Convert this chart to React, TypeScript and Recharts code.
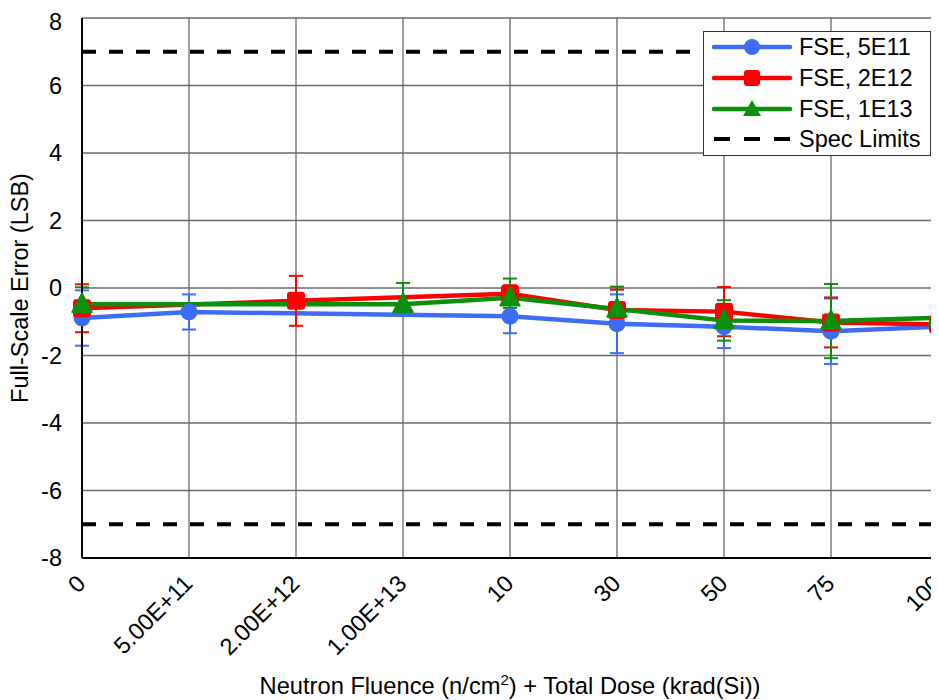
import React from 'react';
import { LineChart, Line, XAxis, YAxis, CartesianGrid, ReferenceLine, ErrorBar, Legend } from 'recharts';

const categories = ['0', '5.00E+11', '2.00E+12', '1.00E+13', '10', '30', '50', '75', '100'];
const fse5E11 = [-0.89, -0.71, null, null, -0.84, -1.06, -1.15, -1.28, -1.15];
const fse5E11Err = [0.82, 0.52, null, null, 0.5, 0.87, 0.63, 0.97, 0.64];
const fse2E12 = [-0.6, null, -0.38, null, -0.17, -0.65, -0.7, -1.02, -1.08];
const fse2E12Err = [0.71, null, 0.74, null, 0.25, [0.4, 0.6], 0.73, 0.74, 0.76];
const fse1E13 = [-0.48, null, null, -0.48, -0.29, -0.62, -0.96, -0.98, -0.88];
const fse1E13Err = [0.5, null, null, [0.05, 0.63], [0.3, 0.57], [0.4, 0.66], 0.6, 1.1, 1.15];
const specLimits = [7, -7];
const yTicks = [-8, -6, -4, -2, 0, 2, 4, 6, 8];

const BLUE = '#3d6cf7';
const RED = '#ff0000';
const GREEN = '#0a900a';
const FONT = '"Liberation Sans", Arial, sans-serif';

const data = categories.map((c, i) => ({
  name: c,
  a: fse5E11[i], aErr: fse5E11Err[i],
  b: fse2E12[i], bErr: fse2E12Err[i],
  c: fse1E13[i], cErr: fse1E13Err[i],
}));

const Circle = (p: any) => {
  if (p.cx == null || p.cy == null || p.value == null) return null;
  return <circle key={p.key} cx={p.cx} cy={p.cy} r={8.5} fill={BLUE} />;
};
const Square = (p: any) => {
  if (p.cx == null || p.cy == null || p.value == null) return null;
  return <rect key={p.key} x={p.cx - 9} y={p.cy - 9} width={18} height={18} rx={3} fill={RED} />;
};
const Triangle = (p: any) => {
  if (p.cx == null || p.cy == null || p.value == null) return null;
  const { cx, cy } = p;
  return <polygon key={p.key} points={`${cx},${cy - 11} ${cx + 10},${cy + 8} ${cx - 10},${cy + 8}`} fill={GREEN} strokeLinejoin="round" stroke={GREEN} strokeWidth={1.5} />;
};

const XTick = (p: any) => {
  const x = p.x + 5;
  const y = p.y + 25;
  return (
    <text x={x} y={y} textAnchor="end" transform={`rotate(-45, ${x}, ${y})`} fontSize={23.5} fontFamily={FONT} fill="#000">
      {p.payload.value}
    </text>
  );
};

const legendItems = [
  { label: 'FSE, 5E11', color: BLUE, kind: 'circle' },
  { label: 'FSE, 2E12', color: RED, kind: 'square' },
  { label: 'FSE, 1E13', color: GREEN, kind: 'triangle' },
  { label: 'Spec Limits', color: '#000', kind: 'dash' },
];

const LegendBox = () => (
  <div style={{ border: '1px solid #333', background: '#fff', padding: '0 8px', width: 210, fontFamily: FONT, fontSize: 23.5 }}>
    {legendItems.map((it) => (
      <div key={it.label} style={{ display: 'flex', alignItems: 'center', height: 30.7 }}>
        <svg width={80} height={24} style={{ marginRight: 7 }}>
          {it.kind === 'dash' ? (
            <line x1={2} y1={12} x2={78} y2={12} stroke="#000" strokeWidth={4} strokeDasharray="16 14" />
          ) : (
            <line x1={2} y1={12} x2={78} y2={12} stroke={it.color} strokeWidth={4.5} strokeLinecap="round" />
          )}
          {it.kind === 'circle' && <circle cx={40} cy={12} r={8} fill={it.color} />}
          {it.kind === 'square' && <rect x={32} y={4} width={16} height={16} rx={3} fill={it.color} />}
          {it.kind === 'triangle' && <polygon points="40,3 49,19 31,19" fill={it.color} />}
        </svg>
        <span style={{ lineHeight: '24px' }}>{it.label}</span>
      </div>
    ))}
  </div>
);

const XTitle = (p: any) => {
  const vb = p.viewBox;
  const cx = vb.x + vb.width / 2;
  return (
    <text x={cx} y={686} textAnchor="middle" fontSize={23.7} fontFamily={FONT} fill="#000">
      Neutron Fluence (n/cm<tspan dy={-9} fontSize={15}>2</tspan><tspan dy={9}>) + Total Dose (krad(Si))</tspan>
    </text>
  );
};

const YTitle = (p: any) => {
  const vb = p.viewBox;
  const x = 20;
  const y = vb.y + vb.height / 2;
  return (
    <text x={x} y={y} textAnchor="middle" transform={`rotate(-90, ${x}, ${y})`} fontSize={23.5} fontFamily={FONT} fill="#000">
      Full-Scale Error (LSB)
    </text>
  );
};

export default function App() {
  return (
    <div style={{ width: 931, height: 692, overflow: 'hidden' }}>
      <LineChart width={990} height={692} data={data} margin={{ top: 10, right: 60, bottom: 0, left: 0 }}>
        <CartesianGrid stroke="#6a6a6a" strokeWidth={1.3} />
        <XAxis
          dataKey="name"
          height={142}
          tick={<XTick />}
          tickLine={false}
          tickSize={0}
          interval={0}
          axisLine={{ stroke: '#000', strokeWidth: 2 }}
          label={<XTitle />}
        />
        <YAxis
          width={74}
          domain={[-8, 8]}
          ticks={yTicks}
          tickLine={false}
          tickSize={0}
          tickMargin={20}
          axisLine={{ stroke: '#000', strokeWidth: 2 }}
          tick={{ fontSize: 23.5, fontFamily: FONT, fill: '#000' }}
          label={<YTitle />}
        />
        {specLimits.map((v) => (
          <ReferenceLine key={v} y={v} stroke="#000" strokeWidth={4} strokeDasharray="14 13" />
        ))}
        <Line dataKey="a" stroke={BLUE} strokeWidth={4.5} connectNulls dot={<Circle />} activeDot={false} isAnimationActive={false}>
          <ErrorBar dataKey="aErr" direction="y" width={7} strokeWidth={2} stroke={BLUE} />
        </Line>
        <Line dataKey="b" stroke={RED} strokeWidth={4.5} connectNulls dot={<Square />} activeDot={false} isAnimationActive={false}>
          <ErrorBar dataKey="bErr" direction="y" width={7} strokeWidth={2} stroke={RED} />
        </Line>
        <Line dataKey="c" stroke={GREEN} strokeWidth={4.5} connectNulls dot={<Triangle />} activeDot={false} isAnimationActive={false}>
          <ErrorBar dataKey="cErr" direction="y" width={7} strokeWidth={2} stroke={GREEN} />
        </Line>
        <Legend layout="vertical" align="center" verticalAlign="middle" content={<LegendBox />} wrapperStyle={{ top: 23, left: 695, width: 228 }} />
      </LineChart>
    </div>
  );
}
